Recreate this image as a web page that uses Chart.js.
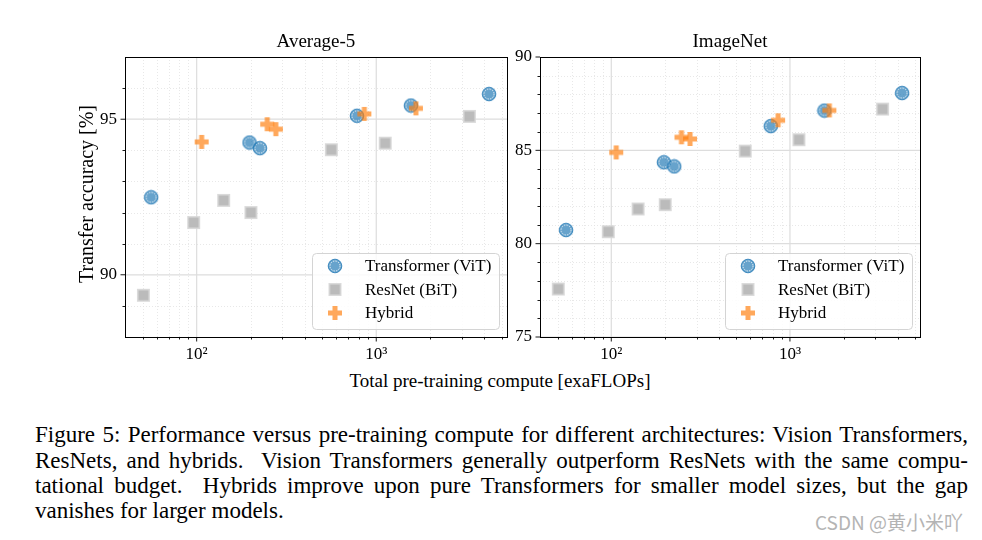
<!DOCTYPE html>
<html><head><meta charset="utf-8">
<script src="https://cdn.jsdelivr.net/npm/chart.js@4/dist/chart.umd.min.js"></script>
<style>
body{margin:0;background:#fff;width:982px;height:540px;position:relative;overflow:hidden;font-family:'Liberation Serif',serif;color:#000}
canvas{position:absolute}
.t{position:absolute;text-align:center;white-space:nowrap}
.cap{position:absolute;left:35px;width:933px;font-size:23px;line-height:25.5px;text-align:justify;text-align-last:justify;white-space:nowrap}
.wm{position:absolute;left:815px;top:508px;font-family:'Noto Sans CJK SC','Noto Sans',sans-serif;font-size:19px;color:#b4b4b4;white-space:nowrap}
</style></head><body>
<canvas id="c1" width="520" height="370" style="left:0;top:0"></canvas>
<canvas id="c2" width="500" height="370" style="left:430px;top:0"></canvas>
<div class="t" style="left:125px;width:382px;top:30px;font-size:19px;line-height:22px">Average-5</div>
<div class="t" style="left:540px;width:380px;top:30px;font-size:19px;line-height:22px">ImageNet</div>
<div class="t" style="left:-34px;width:240px;top:182px;font-size:20px;line-height:24px;transform:rotate(-90deg)">Transfer accuracy [%]</div>
<div class="t" style="left:250px;width:500px;top:370px;font-size:19px;line-height:22px">Total pre-training compute [exaFLOPs]</div>
<div class="cap" style="top:422px">Figure 5: Performance versus pre-training compute for different architectures: Vision Transformers,</div>
<div class="cap" style="top:448px">ResNets, and hybrids.&nbsp; Vision Transformers generally outperform ResNets with the same compu-</div>
<div class="cap" style="top:473px">tational budget.&nbsp; Hybrids improve upon pure Transformers for smaller model sizes, but the gap</div>
<div class="cap" style="top:498px;text-align-last:left">vanishes for larger models.</div>
<div class="wm">CSDN @黄小米吖</div>
<script>
// ---- data ----
const seriesNames = ['Transformer (ViT)', 'ResNet (BiT)', 'Hybrid'];
const computeViT = [55.8, 197, 225, 781, 1559, 4245];
const avg5ViT = [92.49, 94.25, 94.07, 95.11, 95.44, 95.81];
const imagenetViT = [80.73, 84.36, 84.14, 86.30, 87.13, 88.07];
const computeResNet = [50.5, 96.2, 141.3, 200.4, 562, 1122, 3300];
const avg5ResNet = [89.34, 91.68, 92.39, 92.00, 94.02, 94.23, 95.09];
const imagenetResNet = [77.57, 80.64, 81.86, 82.09, 84.96, 85.57, 87.21];
const computeHybrid = [106.6, 247, 276, 858, 1662];
const avg5Hybrid = [94.27, 94.84, 94.68, 95.17, 95.35];
const imagenetHybrid = [84.89, 85.70, 85.61, 86.61, 87.14];
// ---- ticks ----
const xMajorTicks = [100, 1000];
const xTickLabels = ['10\u00b2', '10\u00b3'];
const xMinorTicks = [40,50,60,70,80,90,200,300,400,500,600,700,800,900,2000,3000,4000,5000];
const avg5MajorTicks = [90, 95];
const avg5MinorTicks = [89,91,92,93,94,96];
const imagenetMajorTicks = [75, 80, 85, 90];
const imagenetMinorTicks = [76,77,78,79,81,82,83,84,86,87,88,89];

const FONT = 'Liberation Serif';
Chart.defaults.font.family = FONT;
Chart.defaults.color = '#000';

function mk(w, h, draw){ const c = document.createElement('canvas'); c.width = w; c.height = h; draw(c.getContext('2d'), w, h); return c; }
const circleImg = mk(16, 16, (g) => {
  g.beginPath(); g.arc(8, 8, 6.8, 0, Math.PI*2);
  g.fillStyle = 'rgba(31,119,180,0.68)'; g.fill();
  g.lineWidth = 1; g.strokeStyle = 'rgba(31,119,180,0.8)'; g.stroke();
  g.beginPath(); g.arc(8, 8, 5, 0, Math.PI*2);
  g.setLineDash([1.4, 1.2]); g.lineWidth = 0.9; g.strokeStyle = 'rgba(255,255,255,0.95)'; g.stroke();
});
const squareImg = mk(15, 15, (g) => {
  g.fillStyle = 'rgba(215,215,215,0.9)'; g.fillRect(1, 1, 13, 13);
  g.fillStyle = 'rgba(185,185,185,0.95)'; g.fillRect(2.5, 2.5, 10, 10);
});
const plusImg = mk(16, 16, (g) => {
  g.fillStyle = 'rgba(255,127,14,0.68)';
  g.beginPath();
  const a = 1, b = 5.5, c = 10.5, d = 15;
  g.moveTo(b, a); g.lineTo(c, a); g.lineTo(c, b); g.lineTo(d, b); g.lineTo(d, c); g.lineTo(c, c);
  g.lineTo(c, d); g.lineTo(b, d); g.lineTo(b, c); g.lineTo(a, c); g.lineTo(a, b); g.lineTo(b, b); g.closePath();
  g.fill();
});
const markers = [circleImg, squareImg, plusImg];

const xMin = 39.9, xMax = 5345;

function pts(xs, ys){ return xs.map((v, i) => ({x: v, y: ys[i]})); }

function framePlugin(yMajor, yMinor){
  return {
    id: 'frame',
    beforeDatasetsDraw(chart){
      const {ctx, chartArea: a, scales: {x, y}} = chart;
      ctx.save();
      ctx.beginPath(); ctx.rect(a.left, a.top, a.right - a.left, a.bottom - a.top); ctx.clip();
      ctx.setLineDash([1, 2]); ctx.lineWidth = 0.8; ctx.strokeStyle = '#e2e2e2';
      xMinorTicks.forEach(v => { const p = Math.round(x.getPixelForValue(v)) + 0.5; ctx.beginPath(); ctx.moveTo(p, a.top); ctx.lineTo(p, a.bottom); ctx.stroke(); });
      yMinor.forEach(v => { const p = Math.round(y.getPixelForValue(v)) + 0.5; ctx.beginPath(); ctx.moveTo(a.left, p); ctx.lineTo(a.right, p); ctx.stroke(); });
      ctx.setLineDash([]); ctx.lineWidth = 1.2; ctx.strokeStyle = '#dddddd';
      xMajorTicks.forEach(v => { const p = x.getPixelForValue(v); ctx.beginPath(); ctx.moveTo(p, a.top); ctx.lineTo(p, a.bottom); ctx.stroke(); });
      yMajor.forEach(v => { const p = y.getPixelForValue(v); ctx.beginPath(); ctx.moveTo(a.left, p); ctx.lineTo(a.right, p); ctx.stroke(); });
      ctx.restore();
    },
    afterDraw(chart){
      const {ctx, chartArea: a, scales: {x, y}} = chart;
      ctx.save();
      ctx.strokeStyle = '#000'; ctx.lineWidth = 0.9;
      const tick = (x1, y1, x2, y2) => { ctx.beginPath(); ctx.moveTo(x1, y1); ctx.lineTo(x2, y2); ctx.stroke(); };
      xMinorTicks.forEach(v => { const p = Math.round(x.getPixelForValue(v)) + 0.5; if (p > a.left + 1 && p < a.right - 1) tick(p, a.bottom, p, a.bottom + 2.5); });
      xMajorTicks.forEach(v => { const p = x.getPixelForValue(v); tick(p, a.bottom, p, a.bottom + 4.5); });
      yMinor.forEach(v => { const p = Math.round(y.getPixelForValue(v)) + 0.5; tick(a.left, p, a.left - 2.5, p); });
      yMajor.forEach(v => { const p = y.getPixelForValue(v); tick(a.left, p, a.left - 4.5, p); });
      ctx.lineWidth = 1; ctx.strokeStyle = '#000';
      ctx.strokeRect(Math.round(a.left) + 0.5, Math.round(a.top) + 0.5, Math.round(a.right - a.left), Math.round(a.bottom - a.top));
      // legend
      const w = 187, h = 76;
      const lx = a.right - 8 - w, ly = a.bottom - 8 - h;
      ctx.beginPath();
      if (ctx.roundRect) ctx.roundRect(lx + 0.5, ly + 0.5, w, h, 4); else ctx.rect(lx + 0.5, ly + 0.5, w, h);
      ctx.fillStyle = 'rgba(255,255,255,0.85)'; ctx.fill();
      ctx.strokeStyle = '#d4d4d4'; ctx.lineWidth = 1; ctx.stroke();
      ctx.font = '17px "' + FONT + '"'; ctx.fillStyle = '#000'; ctx.textBaseline = 'middle'; ctx.textAlign = 'left';
      chart.data.datasets.forEach((ds, i) => {
        const ry = ly + 13 + i * 23.5;
        const img = ds.pointStyle;
        ctx.drawImage(img, lx + 23 - img.width / 2, ry - img.height / 2);
        ctx.fillText(ds.label, lx + 53, ry + 1);
      });
      ctx.restore();
    }
  };
}

function makeChart(id, ys, yMin, yMax, yMajor, yMinor, yWidth, padRight){
  return new Chart(document.getElementById(id), {
    type: 'scatter',
    data: {
      datasets: [
        {label: seriesNames[0], data: pts(computeViT, ys[0]), pointStyle: markers[0], pointRadius: 7, order: 1},
        {label: seriesNames[1], data: pts(computeResNet, ys[1]), pointStyle: markers[1], pointRadius: 7, order: 2},
        {label: seriesNames[2], data: pts(computeHybrid, ys[2]), pointStyle: markers[2], pointRadius: 7, order: 0}
      ]
    },
    options: {
      responsive: false, animation: false, events: [],
      layout: {padding: {top: 57, right: padRight, left: 0, bottom: 0}},
      plugins: {legend: {display: false}, tooltip: {enabled: false}},
      scales: {
        x: {
          type: 'logarithmic', min: xMin, max: xMax,
          grid: {display: false, drawTicks: false}, border: {display: false},
          ticks: {padding: 7, font: {size: 17, family: FONT}, color: '#000', autoSkip: false, maxRotation: 0,
            callback: (v) => { const k = xMajorTicks.indexOf(v); return k >= 0 ? xTickLabels[k] : ''; }},
          afterBuildTicks: (s) => { s.ticks = xMajorTicks.map(v => ({value: v})); },
          afterFit: (s) => { s.height = 33; }
        },
        y: {
          type: 'linear', min: yMin, max: yMax,
          grid: {display: false, drawTicks: false}, border: {display: false},
          ticks: {padding: 8, font: {size: 17, family: FONT}, color: '#000', autoSkip: false},
          afterBuildTicks: (s) => { s.ticks = yMajor.map(v => ({value: v})); },
          afterFit: (s) => { s.width = yWidth; }
        }
      }
    },
    plugins: [framePlugin(yMajor, yMinor)]
  });
}

makeChart('c1', [avg5ViT, avg5ResNet, avg5Hybrid], 88, 97, avg5MajorTicks, avg5MinorTicks, 125, 13);
makeChart('c2', [imagenetViT, imagenetResNet, imagenetHybrid], 75, 90, imagenetMajorTicks, imagenetMinorTicks, 110, 10);
</script>
</body></html>
